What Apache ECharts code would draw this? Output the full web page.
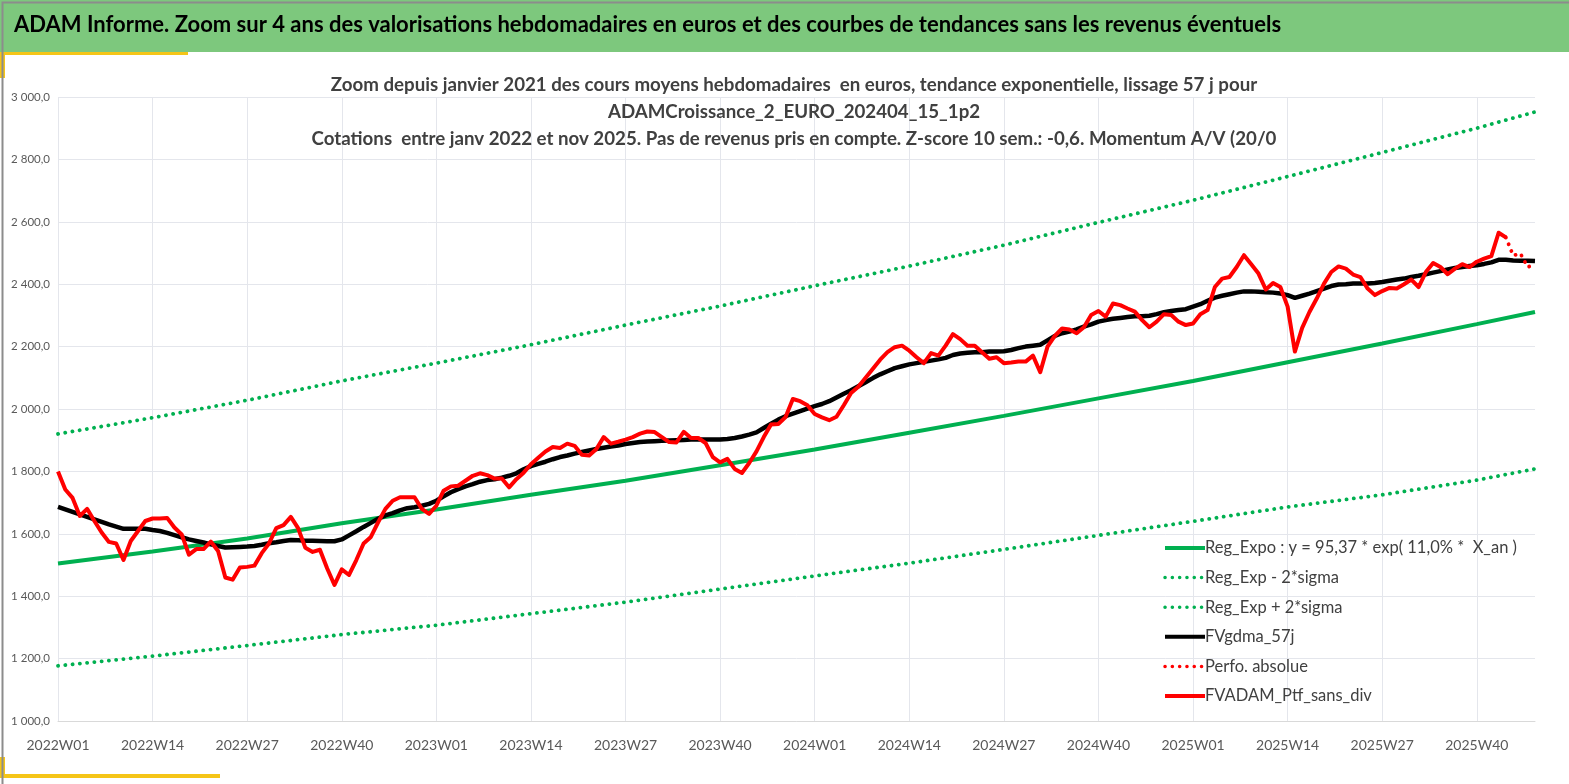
<!DOCTYPE html>
<html>
<head>
<meta charset="utf-8">
<title>ADAM Informe</title>
<script src="https://cdn.jsdelivr.net/npm/echarts/dist/echarts.min.js"></script>
<style>
  html, body { margin: 0; padding: 0; background: #fff; }
  #chart { width: 1569px; height: 784px; }
</style>
</head>
<body>
<div id="chart"></div>
<script>
// semaines 2022W01 .. 2025W48
var years = [2022, 2023, 2024, 2025];
var weeksPerYear = [52, 52, 52, 48];
var weeks = [];
for (var y = 0; y < years.length; y++) {
    for (var w = 1; w <= weeksPerYear[y]; w++) {
        weeks.push(years[y] + "W" + (w < 10 ? "0" + w : w));
    }
}

// FVADAM_Ptf_sans_div (2022W01 .. 2025W44)
var ptfSansDiv = [
    1800, 1742, 1715, 1657, 1680, 1641, 1604, 1574, 1569, 1516,
    1577, 1609, 1641, 1649, 1649, 1651, 1620, 1598, 1533, 1551,
    1551, 1575, 1545, 1460, 1453, 1492, 1494, 1498, 1538, 1569,
    1618, 1628, 1654, 1618, 1555, 1542, 1549, 1489, 1436, 1486,
    1468, 1516, 1569, 1590, 1637, 1680, 1706, 1717, 1717, 1717,
    1680, 1664, 1690, 1738, 1752, 1754, 1770, 1786, 1794, 1788,
    1777, 1777, 1749, 1775, 1796, 1823, 1844, 1864, 1878, 1875,
    1889, 1882, 1853, 1851, 1872, 1910, 1889, 1895, 1902, 1910,
    1921, 1928, 1926, 1910, 1894, 1893, 1927, 1907, 1907, 1891,
    1846, 1829, 1840, 1808, 1795, 1827, 1864, 1910, 1950, 1952,
    1974, 2032, 2025, 2012, 1984, 1973, 1964, 1975, 2012, 2051,
    2071, 2100, 2129, 2158, 2182, 2198, 2203, 2187, 2166, 2147,
    2179, 2171, 2203, 2240, 2224, 2203, 2203, 2182, 2161, 2166,
    2147, 2149, 2152, 2152, 2171, 2118, 2200, 2234, 2258, 2255,
    2243, 2262, 2301, 2314, 2296, 2338, 2333, 2322, 2312, 2285,
    2262, 2280, 2304, 2301, 2280, 2269, 2274, 2304, 2317, 2391,
    2418, 2423, 2455, 2493, 2464, 2434, 2383, 2404, 2391, 2328,
    2184, 2260, 2311, 2354, 2402, 2439, 2457, 2450, 2431, 2423,
    2386, 2365, 2378, 2388, 2386, 2400, 2415, 2391, 2439, 2468,
    2455, 2432, 2450, 2464, 2455, 2472, 2482, 2490, 2565, 2550
];

// FVgdma_57j (moyenne glissante)
var gdma57 = [
    1686, 1678, 1670, 1662, 1654, 1646, 1638, 1630, 1623, 1616,
    1616, 1616, 1616, 1612, 1609, 1603, 1596, 1589, 1582, 1577,
    1572, 1566, 1561, 1556, 1557, 1558, 1559, 1561, 1565, 1570,
    1573, 1577, 1580, 1579, 1578, 1578, 1577, 1576, 1576, 1582,
    1595, 1608, 1622, 1635, 1648, 1659, 1666, 1675, 1682, 1685,
    1690, 1696, 1706, 1720, 1733, 1743, 1752, 1759, 1767, 1772,
    1775, 1780, 1786, 1794, 1807, 1817, 1824, 1831, 1839, 1846,
    1851, 1857, 1862, 1867, 1872, 1876, 1880, 1883, 1888, 1891,
    1894, 1896, 1897, 1898, 1899, 1900, 1901, 1902, 1902, 1902,
    1902, 1902, 1904, 1907, 1912, 1918, 1925, 1939, 1953, 1966,
    1977, 1985, 1993, 2001, 2009, 2016, 2025, 2037, 2049, 2060,
    2073, 2086, 2099, 2111, 2121, 2131, 2137, 2143, 2147, 2151,
    2155, 2159, 2164, 2173, 2178, 2180, 2182, 2182, 2184, 2184,
    2185, 2189, 2195, 2200, 2203, 2206, 2220, 2234, 2243, 2248,
    2255, 2264, 2271, 2280, 2285, 2289, 2292, 2295, 2297, 2297,
    2299, 2304, 2310, 2314, 2317, 2320, 2328, 2336, 2347, 2357,
    2363, 2368, 2373, 2377, 2377, 2376, 2374, 2373, 2370, 2365,
    2356, 2363, 2370, 2378, 2386, 2394, 2399, 2400, 2402, 2402,
    2402, 2404, 2407, 2411, 2415, 2418, 2423, 2427, 2432, 2437,
    2442, 2447, 2452, 2455, 2458, 2461, 2465, 2470, 2478, 2478,
    2476, 2475, 2475, 2474
];

// Perfo. absolue : dernieres semaines seulement (le reste est sous la courbe rouge)
var perfoWeeks = [199, 200, 201, 202, 203];
var perfoValues = [2550, 2492, 2498, 2455, 2465];

// courbes de tendance lues aux semaines etiquetees
var trendWeeks = [0, 13, 26, 39, 52, 65, 78, 91, 104, 117, 130, 143, 156, 169, 182, 195, 203];
var regExpo  = [1505, 1543, 1585, 1634, 1678, 1725, 1770, 1820, 1870, 1924, 1978, 2034, 2090, 2150, 2210, 2272, 2311];
var regMinus = [1177, 1208, 1242, 1277, 1307, 1344, 1381, 1423, 1465, 1506, 1550, 1595, 1640, 1686, 1725, 1772, 1808];
var regPlus  = [1920, 1972, 2028, 2090, 2147, 2206, 2269, 2330, 2395, 2458, 2525, 2598, 2669, 2745, 2822, 2900, 2952];

function pairs(xs, vs) {
    return xs.map(function (x, i) { return [x, vs[i]]; });
}

function frNum(v) {
    var s = v.toFixed(1).split(".");
    return s[0].replace(/\B(?=(\d{3})+(?!\d))/g, " ") + "," + s[1];
}

var GREEN = "#00b050";
var RED = "#ff0000";
var font = "Lato, sans-serif";
var dots = [0.1, 7.2];

var myChart = echarts.init(document.getElementById("chart"));
var option = {
    backgroundColor: "#ffffff",
    animation: false,
    title: {
        text: "Zoom depuis janvier 2021 des cours moyens hebdomadaires  en euros, tendance exponentielle, lissage 57 j pour\nADAMCroissance_2_EURO_202404_15_1p2\nCotations  entre janv 2022 et nov 2025. Pas de revenus pris en compte. Z-score 10 sem.: -0,6. Momentum A/V (20/0",
        left: 789,
        top: 66,
        textAlign: "center",
        textStyle: {
            fontFamily: font,
            fontSize: 18.7,
            fontWeight: "bold",
            color: "#404040",
            lineHeight: 27
        }
    },
    graphic: [
        { type: "rect", left: 0, top: 0, shape: { width: 1569, height: 52 }, style: { fill: "#7dc87d" }, z: 0 },
        { type: "text", left: 14, top: 14, style: { text: "ADAM Informe. Zoom sur 4 ans des valorisations hebdomadaires en euros et des courbes de tendances sans les revenus éventuels", font: "bold 22px " + font, fill: "#000" } },
        { type: "rect", left: 0, top: 52, shape: { width: 188, height: 3 }, style: { fill: "#f5c518" } },
        { type: "rect", left: 0, top: 52, shape: { width: 5, height: 26 }, style: { fill: "#f5c518" } },
        { type: "rect", left: 0, top: 774, shape: { width: 220, height: 4 }, style: { fill: "#f5c518" } },
        { type: "rect", left: 0, top: 757, shape: { width: 5, height: 20 }, style: { fill: "#f5c518" } },
        { type: "rect", left: 0, top: 0, shape: { width: 1568, height: 783 }, style: { fill: "none", stroke: "#8c8c8c", lineWidth: 2 }, z: 100 }
    ],
    legend: {
        orient: "vertical",
        left: 1158,
        top: 533,
        itemWidth: 40,
        itemHeight: 10,
        itemGap: 9.6,
        itemStyle: { opacity: 0 },
        lineStyle: { width: 4 },
        textStyle: { fontFamily: font, fontSize: 16.5, lineHeight: 20, color: "#404040", padding: [0, 0, 0, -5] },
        data: [
            "Reg_Expo : y = 95,37 * exp( 11,0% *  X_an )",
            { name: "Reg_Exp - 2*sigma", lineStyle: { width: 3.5 } },
            { name: "Reg_Exp + 2*sigma", lineStyle: { width: 3.5 } },
            "FVgdma_57j",
            { name: "Perfo. absolue", lineStyle: { width: 3.5 } },
            "FVADAM_Ptf_sans_div"
        ]
    },
    grid: { left: 58, right: 34, top: 97, bottom: 63 },
    xAxis: {
        type: "category",
        data: weeks,
        boundaryGap: false,
        axisLine: { lineStyle: { color: "#d9d9d9" } },
        axisTick: { show: false },
        axisLabel: {
            interval: 12,
            margin: 17,
            fontFamily: font,
            fontSize: 14,
            color: "#595959"
        },
        splitLine: { show: true, interval: 12, lineStyle: { color: "#e4e6ec", width: 1 } }
    },
    yAxis: {
        type: "value",
        min: 1000,
        max: 3000,
        interval: 200,
        axisLine: { show: false },
        axisTick: { show: false },
        axisLabel: {
            margin: 8,
            fontFamily: font,
            fontSize: 11.5,
            color: "#595959",
            formatter: frNum
        },
        splitLine: { lineStyle: { color: "#e4e6ec", width: 1 } }
    },
    series: [
        {
            name: "Reg_Expo : y = 95,37 * exp( 11,0% *  X_an )",
            type: "line", symbol: "none", color: GREEN,
            lineStyle: { width: 4, color: GREEN },
            data: pairs(trendWeeks, regExpo)
        },
        {
            name: "Reg_Exp - 2*sigma",
            type: "line", symbol: "none", color: GREEN,
            lineStyle: { width: 3.8, color: GREEN, type: dots, cap: "round" },
            data: pairs(trendWeeks, regMinus)
        },
        {
            name: "Reg_Exp + 2*sigma",
            type: "line", symbol: "none", color: GREEN,
            lineStyle: { width: 3.8, color: GREEN, type: dots, cap: "round" },
            data: pairs(trendWeeks, regPlus)
        },
        {
            name: "FVgdma_57j",
            type: "line", symbol: "none", color: "#000000",
            lineStyle: { width: 4.5, color: "#000000" },
            data: gdma57
        },
        {
            name: "Perfo. absolue",
            type: "line", symbol: "none", color: RED,
            lineStyle: { width: 3.8, color: RED, type: dots, cap: "round" },
            data: pairs(perfoWeeks, perfoValues)
        },
        {
            name: "FVADAM_Ptf_sans_div",
            type: "line", symbol: "none", color: RED,
            lineStyle: { width: 4, color: RED, join: "round" },
            data: ptfSansDiv
        }
    ]
};
myChart.setOption(option);
</script>
</body>
</html>
